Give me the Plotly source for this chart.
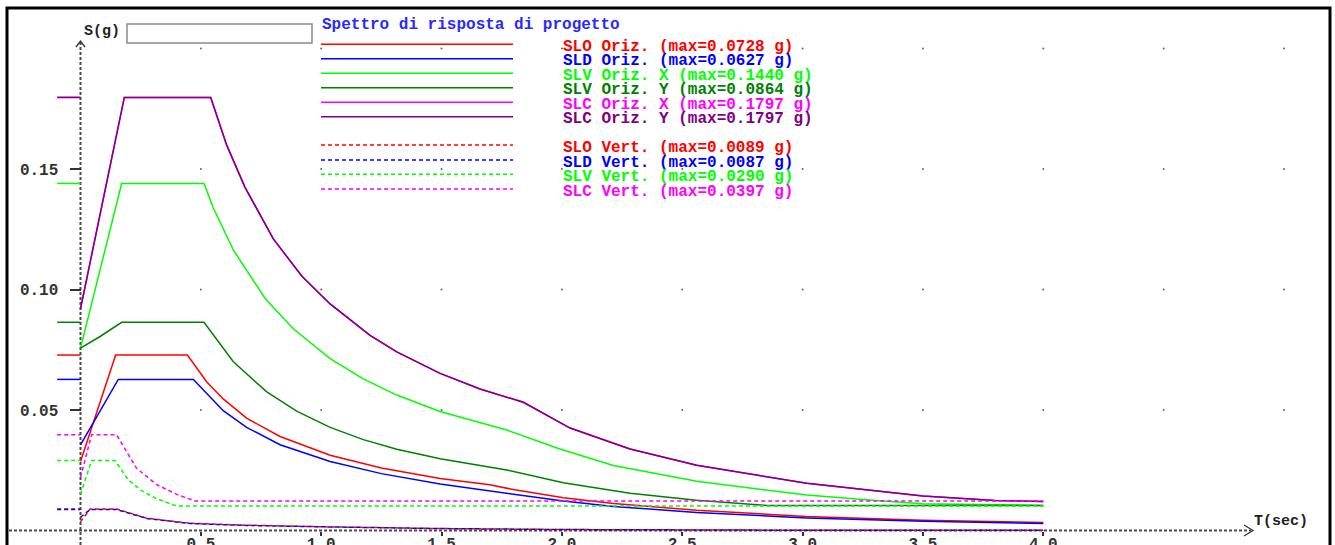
import plotly.graph_objects as go

# ---------------- data ----------------
T_SLO_OR = [0.0, 0.146, 0.444, 0.524, 0.593, 0.690, 0.829, 1.037, 1.25, 1.494, 1.70, 1.798, 2.006, 2.214, 2.56, 3.017, 3.5, 4.0]
S_SLO_OR = [0.0286, 0.0728, 0.0728, 0.0617, 0.0546, 0.0466, 0.0390, 0.0312, 0.0259, 0.0216, 0.0190, 0.0170, 0.0136, 0.0112, 0.0084, 0.0058, 0.0043, 0.0033]

T_SLD_OR = [0.0, 0.157, 0.469, 0.593, 0.690, 0.829, 1.037, 1.25, 1.494, 1.798, 2.006, 2.214, 2.56, 3.017, 3.5, 4.0]
S_SLD_OR = [0.0355, 0.0627, 0.0627, 0.0497, 0.0428, 0.0356, 0.0286, 0.0236, 0.0193, 0.0150, 0.0122, 0.0100, 0.0075, 0.0052, 0.0038, 0.0029]

T_SLV_X = [0.0, 0.171, 0.513, 0.552, 0.635, 0.767, 0.884, 1.037, 1.175, 1.314, 1.494, 1.771, 1.992, 2.214, 2.56, 3.017, 3.29, 3.5, 4.0]
S_SLV_X = [0.0757, 0.1440, 0.1440, 0.1338, 0.1164, 0.0963, 0.0837, 0.0713, 0.0629, 0.0562, 0.0494, 0.0417, 0.0338, 0.0270, 0.0204, 0.0147, 0.0126, 0.0111, 0.0104]

T_SLV_Y = [0.0, 0.083, 0.171, 0.513, 0.635, 0.774, 0.898, 1.037, 1.175, 1.314, 1.494, 1.771, 2.006, 2.283, 2.56, 2.85, 4.0]
S_SLV_Y = [0.0757, 0.0806, 0.0864, 0.0864, 0.0700, 0.0575, 0.0495, 0.0428, 0.0377, 0.0337, 0.0298, 0.0251, 0.0198, 0.0155, 0.0126, 0.0104, 0.0104]

T_SLC_X = [0.0, 0.182, 0.541, 0.607, 0.683, 0.801, 0.92, 1.037, 1.203, 1.314, 1.494, 1.66, 1.84, 2.034, 2.283, 2.56, 3.017, 3.5, 3.8, 4.0]
S_SLC_X = [0.0920, 0.1797, 0.1797, 0.1600, 0.1425, 0.1210, 0.1055, 0.0940, 0.0810, 0.0741, 0.0652, 0.0587, 0.0532, 0.0425, 0.0338, 0.0271, 0.0196, 0.0143, 0.0125, 0.0120]

T_SLC_Y = [0.0, 0.182, 0.541, 0.607, 0.683, 0.801, 0.92, 1.037, 1.203, 1.314, 1.494, 1.66, 1.84, 2.034, 2.283, 2.56, 3.017, 3.5, 3.8, 4.0]
S_SLC_Y = [0.0920, 0.1797, 0.1797, 0.1600, 0.1425, 0.1210, 0.1055, 0.0940, 0.0810, 0.0741, 0.0652, 0.0587, 0.0532, 0.0425, 0.0338, 0.0271, 0.0196, 0.0143, 0.0125, 0.0120]

T_SLO_V = [0.0, 0.04, 0.15, 0.219, 0.275, 0.455, 0.69, 1.03, 1.5, 2.0, 2.5, 3.0, 4.0]
S_SLO_V = [0.0036, 0.0089, 0.0089, 0.0068, 0.0051, 0.0030, 0.0022, 0.0015, 0.0008, 0.0004, 0.0002, 0.0001, 0.0001]

T_SLD_V = [0.0, 0.04, 0.15, 0.219, 0.275, 0.455, 0.69, 1.03, 1.5, 2.0, 2.5, 3.0, 4.0]
S_SLD_V = [0.0055, 0.0087, 0.0087, 0.0067, 0.0050, 0.0029, 0.0021, 0.0015, 0.0008, 0.0004, 0.0002, 0.0001, 0.0001]

T_SLV_V = [0.0, 0.046, 0.143, 0.199, 0.254, 0.31, 0.372, 0.40, 4.0]
S_SLV_V = [0.0150, 0.0290, 0.0290, 0.0210, 0.0165, 0.0135, 0.0111, 0.0102, 0.0102]

T_SLC_V = [0.0, 0.046, 0.150, 0.233, 0.317, 0.40, 0.476, 4.0]
S_SLC_V = [0.0220, 0.0397, 0.0397, 0.0258, 0.0190, 0.0150, 0.0122, 0.0122]

LABELS = ["SLO Oriz.", "SLD Oriz.", "SLV Oriz. X", "SLV Oriz. Y", "SLC Oriz. X", "SLC Oriz. Y",
          "SLO Vert.", "SLD Vert.", "SLV Vert.", "SLC Vert."]
X_TICKS = [0.5, 1.0, 1.5, 2.0, 2.5, 3.0, 3.5, 4.0]
X_TICK_TEXT = ["0.5", "1.0", "1.5", "2.0", "2.5", "3.0", "3.5", "4.0"]
Y_TICKS = [0.05, 0.10, 0.15]
Y_TICK_TEXT = ["0.05", "0.10", "0.15"]
GRID_T = [0.5, 1.0, 1.5, 2.0, 2.5, 3.0, 3.5, 4.0, 4.5, 5.0]
GRID_S = [0.05, 0.10, 0.15, 0.20]
TITLE = "Spettro di risposta di progetto"

# ---------------- styling / layout ----------------
W, H = 1335, 545
X0_PX, PX_PER_T = 80.5, 240.7
Y0_PX, PX_PER_S = 530.5, 2410.0
MONO = "Liberation Mono"

SERIES = [
    (T_SLO_OR, S_SLO_OR, "#ff0000", "solid"),
    (T_SLD_OR, S_SLD_OR, "#0000ff", "solid"),
    (T_SLV_X, S_SLV_X, "#00ff00", "solid"),
    (T_SLV_Y, S_SLV_Y, "#008000", "solid"),
    (T_SLC_X, S_SLC_X, "#ff00ff", "solid"),
    (T_SLC_Y, S_SLC_Y, "#800080", "solid"),
    (T_SLO_V, S_SLO_V, "#ff0000", "4px,3px"),
    (T_SLD_V, S_SLD_V, "#0000ff", "4px,3px"),
    (T_SLV_V, S_SLV_V, "#00ff00", "4px,3px"),
    (T_SLC_V, S_SLC_V, "#ff00ff", "4px,3px"),
]


def px(x):
    return x / W


def py(y):
    return 1 - y / H


fig = go.Figure()

# grid dots
gx, gy = [], []
for t in GRID_T:
    for s in GRID_S:
        gx.append(t)
        gy.append(s)
fig.add_trace(go.Scatter(x=gx, y=gy, mode="markers", hoverinfo="skip", showlegend=False,
                         marker=dict(size=2, color="#666666", line=dict(width=0))))

for (T, S, col, dash), lab in zip(SERIES, LABELS):
    m = max(S)
    xs = [-0.097, 0.0, None] + T
    ys = [m, m, None] + S
    fig.add_trace(go.Scatter(x=xs, y=ys, mode="lines", name=lab, hoverinfo="skip", showlegend=False,
                             line=dict(color=col, width=1.5, dash=dash)))

shapes = []
annotations = []

# outer frame
shapes.append(dict(type="rect", xref="paper", yref="paper", x0=px(7), x1=px(1330), y0=py(8), y1=py(600),
                   line=dict(color="black", width=3), fillcolor="rgba(0,0,0,0)", layer="below"))
# empty box
shapes.append(dict(type="rect", xref="paper", yref="paper", x0=px(127), x1=px(312), y0=py(24), y1=py(43),
                   line=dict(color="#8a8a8a", width=1.5), fillcolor="white", layer="above"))
# dotted axes
AX = dict(color="#4a4a4a", width=2, dash="3px,2px")
shapes.append(dict(type="line", xref="paper", yref="paper", x0=px(X0_PX), x1=px(X0_PX), y0=py(42), y1=py(560),
                   line=AX, layer="below"))
shapes.append(dict(type="line", xref="paper", yref="paper", x0=px(9), x1=px(1251), y0=py(Y0_PX), y1=py(Y0_PX),
                   line=AX, layer="below"))
# arrow heads
shapes.append(dict(type="path", xref="paper", yref="paper",
                   path=f"M {px(76)} {py(47)} L {px(X0_PX)} {py(41)} L {px(85)} {py(47)}",
                   line=dict(color="#333333", width=1.3)))
shapes.append(dict(type="path", xref="paper", yref="paper",
                   path=f"M {px(1244)} {py(525)} L {px(1253)} {py(Y0_PX)} L {px(1244)} {py(536)}",
                   line=dict(color="#333333", width=1.3)))

# legend
LINE_Y = [44.3, 58.7, 73.3, 87.7, 102.3, 116.7, 145.0, 160.0, 174.3, 189.0]
for (T, S, col, dash), lab, ly in zip(SERIES, LABELS, LINE_Y):
    shapes.append(dict(type="line", xref="paper", yref="paper", x0=px(321), x1=px(513), y0=py(ly), y1=py(ly),
                       line=dict(color=col, width=1.5, dash=dash)))
    annotations.append(dict(xref="paper", yref="paper", x=px(561), y=py(ly + 2.5), xanchor="left", yanchor="middle",
                            text=f"{lab} (max={max(S):.4f} g)", showarrow=False,
                            font=dict(family=MONO, size=16, color=col, weight="bold")))

annotations.append(dict(xref="paper", yref="paper", x=px(320), y=py(25), xanchor="left", yanchor="middle",
                        text=TITLE, showarrow=False, font=dict(family=MONO, size=16, color="#2a2aff", weight="bold")))
annotations.append(dict(xref="paper", yref="paper", x=px(82), y=py(31), xanchor="left", yanchor="middle",
                        text="S(g)", showarrow=False, font=dict(family=MONO, size=15, color="#222222", weight="bold")))
annotations.append(dict(xref="paper", yref="paper", x=px(1252), y=py(521), xanchor="left", yanchor="middle",
                        text="T(sec)", showarrow=False, font=dict(family=MONO, size=15, color="#222222", weight="bold")))

fig.update_layout(
    width=W, height=H, autosize=False,
    margin=dict(l=0, r=0, t=0, b=0, pad=0),
    paper_bgcolor="white", plot_bgcolor="white",
    showlegend=False,
    shapes=shapes, annotations=annotations,
    xaxis=dict(range=[(0 - X0_PX) / PX_PER_T, (W - X0_PX) / PX_PER_T], anchor="free", position=py(Y0_PX),
               showgrid=False, zeroline=False, showline=False,
               tickmode="array", tickvals=X_TICKS, ticktext=X_TICK_TEXT,
               ticks="outside", ticklen=4, tickwidth=1.5, tickcolor="#333333", ticklabelstandoff=-6,
               tickfont=dict(family=MONO, size=16, color="#333333", weight="bold"),
               automargin=False, fixedrange=True),
    yaxis=dict(range=[(Y0_PX - H) / PX_PER_S, Y0_PX / PX_PER_S], anchor="free", position=px(X0_PX),
               showgrid=False, zeroline=False, showline=False,
               tickmode="array", tickvals=Y_TICKS, ticktext=Y_TICK_TEXT,
               ticks="outside", ticklen=11, tickwidth=1.5, tickcolor="#333333", ticklabelstandoff=8,
               tickfont=dict(family=MONO, size=16, color="#333333", weight="bold"),
               automargin=False, fixedrange=True),
)

fig.write_html("out.html", config={"displayModeBar": False},
               post_script="document.body.style.margin='0';document.body.style.overflow='hidden';")
